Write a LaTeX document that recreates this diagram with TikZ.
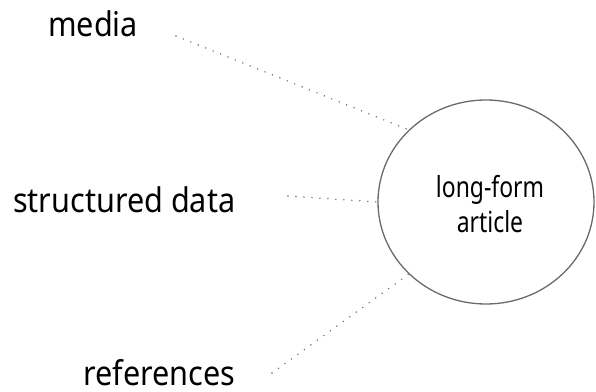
\documentclass[tikz,border=0pt]{standalone}
\usepackage{fontspec}
\setmainfont[FakeStretch=0.9]{Noto Sans}
\newfontfamily\artfont[FakeStretch=0.79]{Noto Sans}
\usetikzlibrary{shapes.geometric}
\definecolor{linegray}{HTML}{6A6A6A}
\tikzset{
  lbl/.style={anchor=base west, inner sep=0pt, font=\fontsize{34}{40}\selectfont, text=black},
  artnode/.style={ellipse, draw=linegray, line width=1.3pt, minimum width=216pt, minimum height=204pt, inner sep=0pt},
  arttext/.style={inner sep=0pt, align=center, font=\artfont\fontsize{29}{35}\selectfont, text=black},
  dotline/.style={draw=linegray, line width=1.6pt, line cap=round, dash pattern=on 0pt off 8pt}
}
\begin{document}
\begin{tikzpicture}[x=1pt,y=1pt]
\useasboundingbox (0,0) rectangle (596,391);
\node[artnode] (art) at (486,189) {};
\node[arttext, anchor=base] (artlabel) at (490,159) {long-form\\article};
\node[lbl] (media) at (48,354) {media};
\node[lbl] (sdata) at (13,178) {structured data};
\node[lbl] (refs) at (83,6) {references};
\coordinate (m1) at (176,355);
\coordinate (s1) at (288,195);
\coordinate (r1) at (272,18);
\draw[dotline] (m1) -- (art.137);
\draw[dotline] (s1) -- (art.180);
\draw[dotline] (r1) -- (art.223.5);
\end{tikzpicture}
\end{document}
